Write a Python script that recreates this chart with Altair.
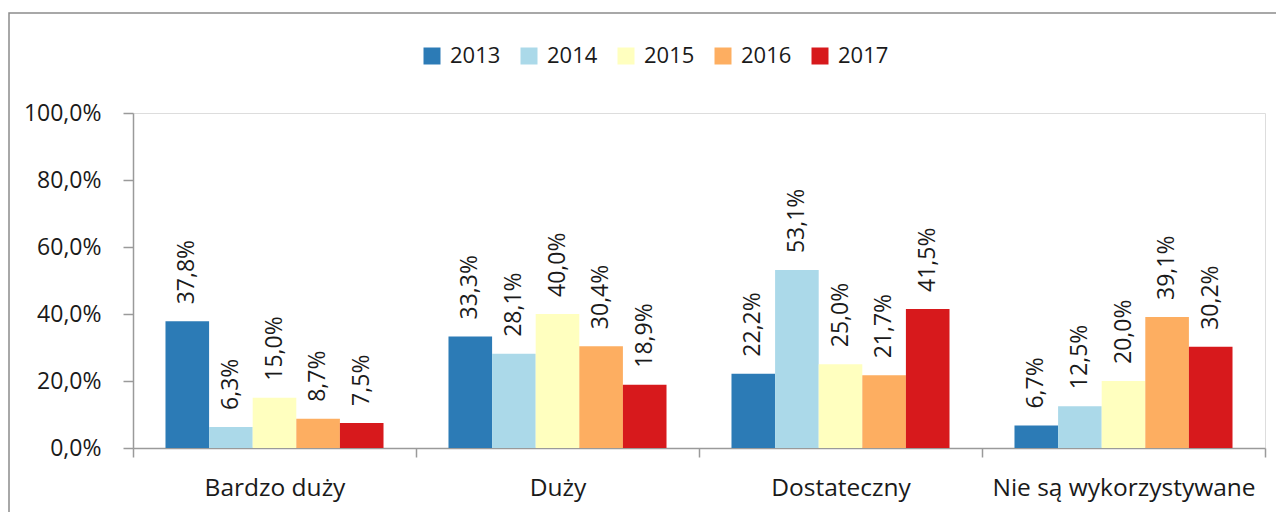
import altair as alt
import pandas as pd

categories = ["Bardzo duży", "Duży", "Dostateczny", "Nie są wykorzystywane"]
years = ["2013", "2014", "2015", "2016", "2017"]
values = {
    "2013": [37.8, 33.3, 22.2, 6.7],
    "2014": [6.3, 28.1, 53.1, 12.5],
    "2015": [15.0, 40.0, 25.0, 20.0],
    "2016": [8.7, 30.4, 21.7, 39.1],
    "2017": [7.5, 18.9, 41.5, 30.2],
}
colors = ["#2C7BB6", "#ABD9E9", "#FFFFBF", "#FDAE61", "#D7191C"]
y_ticks = [0, 0.2, 0.4, 0.6, 0.8, 1.0]

rows = []
for y in years:
    for c, v in zip(categories, values[y]):
        rows.append({"cat": c, "year": y, "value": v / 100})
df = pd.DataFrame(rows)

FONT = "Open Sans"
TXT = "#1a1a1a"
AX = "#9a9a9a"
W, H = 1132, 335

x = alt.X("cat:N", sort=categories, title=None,
          scale=alt.Scale(paddingInner=0, paddingOuter=0),
          axis=alt.Axis(tickBand="extent", labelAngle=0, labelFontSize=24.5,
                        labelPadding=19, tickSize=9, labelLimit=500,
                        domainColor=AX, tickColor=AX, domainWidth=1.5, tickWidth=1.5,
                        labelColor=TXT, labelFont=FONT))
xo = alt.XOffset("year:N", sort=years,
                 scale=alt.Scale(paddingOuter=0.745, paddingInner=0))
yenc = alt.Y("value:Q", title=None,
             scale=alt.Scale(domain=[0, 1]),
             axis=alt.Axis(values=y_ticks, grid=False, tickSize=10,
                           labelExpr="replace(format(datum.value, '.1%'), '.', ',')",
                           labelFontSize=23, labelPadding=22,
                           domainColor=AX, tickColor=AX, domainWidth=1.5, tickWidth=1.5,
                           labelColor=TXT, labelFont=FONT))

base = alt.Chart(df)

bars = base.mark_bar().encode(
    x=x, xOffset=xo, y=yenc,
    color=alt.Color("year:N", sort=years,
                    scale=alt.Scale(domain=years, range=colors),
                    legend=alt.Legend(title=None, orient="none", direction="horizontal",
                                      legendX=288, legendY=-68, symbolType="square",
                                      symbolSize=289, symbolStrokeWidth=0,
                                      labelFontSize=22, labelFont=FONT,
                                      labelColor=TXT, columnPadding=17,
                                      labelOffset=7)),
)

labels = base.transform_calculate(
    lab="replace(format(datum.value, '.1%'), '.', ',')"
).mark_text(angle=270, align="left", baseline="middle", dx=17, fontSize=23,
            font=FONT, color=TXT).encode(
    x=alt.X("cat:N", sort=categories), xOffset=xo, y="value:Q", text="lab:N"
)

frame = alt.Chart(pd.DataFrame({"a": [0]})).mark_rect(
    filled=False, stroke="#8c8c8c", strokeWidth=1.5, clip=False
).encode(x=alt.value(-124), x2=alt.value(3000), y=alt.value(-100), y2=alt.value(3000))

chart = alt.layer(frame, bars, labels).properties(
    width=W, height=H,
    autosize=alt.AutoSizeParams(type="none"),
    padding={"left": 125, "top": 105, "right": 11, "bottom": 64},
).configure_view(stroke=None).configure(font=FONT)

chart.save("out.html", embed_options={"renderer": "svg", "actions": False})
